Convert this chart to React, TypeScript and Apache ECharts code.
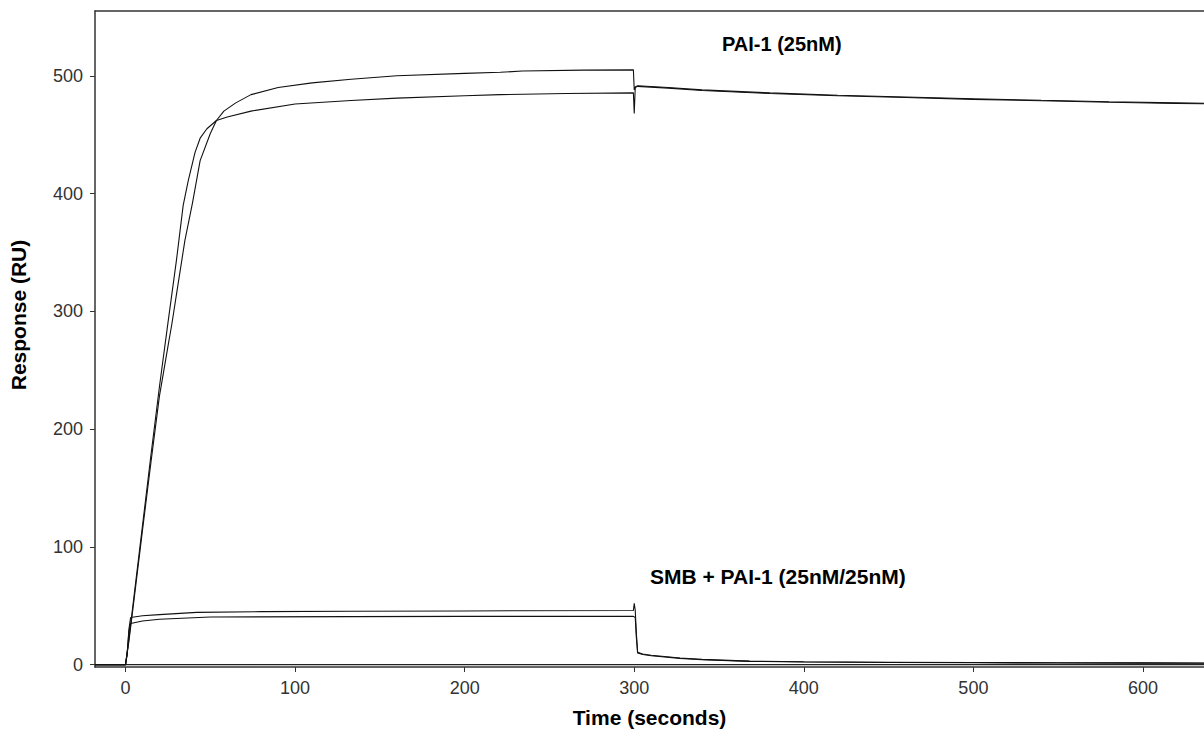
import React, { useEffect, useRef } from "react";
import * as echarts from "echarts";

// Axis ticks
const xTicks = [0, 100, 200, 300, 400, 500, 600];
const yTicks = [0, 100, 200, 300, 400, 500];

// PAI-1 (25nM) – trace A (faster rise, lower plateau)
const paiATime = [-18, 0, 2, 5, 10, 15, 20, 25, 30, 34, 37, 41, 44, 48, 53.6, 60, 74, 100, 133, 160, 200, 221, 260, 299.5, 300, 300.6, 302, 320, 340, 380, 420, 460, 500, 540, 580, 620, 648];
const paiAValue = [0, 0, 22, 58, 118, 178, 236, 290, 343, 390, 411, 435, 447, 455, 462, 465, 470, 476, 479, 481, 483, 484, 485, 485.5, 468, 490, 491, 489.5, 487.5, 485, 483, 481.5, 480, 478.8, 477.5, 476.5, 476];

// PAI-1 (25nM) – trace B (slower rise, higher plateau)
const paiBTime = [-18, 0, 2, 5, 10, 15, 20, 25, 27.3, 30, 35, 39.5, 44, 50, 53.6, 58, 65, 74, 90, 110, 133, 160, 200, 221, 234, 270, 299.5, 300, 300.6, 302, 320, 340, 380, 420, 460, 500, 540, 580, 620, 648];
const paiBValue = [0, 0, 20, 55, 114, 172, 228, 270, 289, 314, 360, 392, 428, 451, 462, 470, 477, 484, 490, 494, 497, 500, 502, 503, 504, 504.8, 505, 488, 490.5, 491.5, 490, 488, 485.5, 483.5, 482, 480.5, 479.2, 478, 477, 476.5];

// SMB + PAI-1 (25nM/25nM) – upper trace
const smbATime = [-18, 0, 1, 2, 3, 10, 20, 42, 80, 133, 200, 299.5, 300, 300.6, 301.2, 302, 305, 310, 327, 340, 368, 400, 450, 500, 550, 600, 648];
const smbAValue = [0, 0, 10, 30, 40, 41.5, 42.5, 44.4, 45, 45.3, 45.6, 46, 52, 46, 28, 10.5, 9, 8, 5.6, 4.5, 3, 2.5, 2, 1.8, 1.6, 1.5, 1.4];

// SMB + PAI-1 (25nM/25nM) – lower trace
const smbBTime = [-18, 0, 1, 2, 3, 10, 20, 50, 133, 200, 299.5, 300.6, 301.2, 302, 305, 310, 327, 340, 368, 400, 450, 500, 550, 600, 648];
const smbBValue = [0, 0, 9, 28, 35, 37, 38.5, 40.5, 40.8, 41, 41, 40, 24, 10, 8.6, 7.6, 5.3, 4.2, 2.8, 2.2, 1.8, 1.6, 1.4, 1.3, 1.2];

// Flat reference trace at zero
const refTime = [-18, 648];
const refValue = [0, 0];

const zip = (t: number[], v: number[]) => t.map((x, i) => [x, v[i]]);

const FONT = "'Liberation Sans', Arial, sans-serif";

export default function App() {
  const ref = useRef<HTMLDivElement>(null);
  useEffect(() => {
    if (!ref.current) return;
    const chart = echarts.init(ref.current, null, { renderer: "svg" });
    const lineSeries = (name: string, t: number[], v: number[], color = "#111", width = 1.1) => ({
      name,
      type: "line",
      data: zip(t, v),
      showSymbol: false,
      symbol: "none",
      lineStyle: { color, width },
      clip: true,
      silent: true,
    });
    chart.setOption({
      animation: false,
      backgroundColor: "#fff",
      grid: { left: 95, top: 11, right: 0, bottom: 77 },
      xAxis: [
        {
          type: "value",
          min: -18,
          max: 636,
          position: "bottom",
          axisLine: { show: true, onZero: false, lineStyle: { color: "#333", width: 1.5 } },
          axisTick: { show: true, customValues: xTicks, length: 5, lineStyle: { color: "#333", width: 1 } },
          axisLabel: { customValues: xTicks, fontSize: 18, color: "#333", margin: 12, fontFamily: FONT },
          splitLine: { show: false },
          name: "Time (seconds)",
          nameLocation: "middle",
          nameGap: 40,
          nameTextStyle: { fontWeight: "bold", fontSize: 21, color: "#000", fontFamily: FONT },
        },
        {
          type: "value",
          min: -18,
          max: 636,
          position: "top",
          axisLine: { show: true, onZero: false, lineStyle: { color: "#333", width: 1.5 } },
          axisTick: { show: false },
          axisLabel: { show: false },
          splitLine: { show: false },
        },
      ],
      yAxis: {
        type: "value",
        min: -2,
        max: 555,
        axisLine: { show: true, onZero: false, lineStyle: { color: "#333", width: 1.5 } },
        axisTick: { show: true, customValues: yTicks, length: 5, lineStyle: { color: "#333", width: 1 } },
        axisLabel: { customValues: yTicks, fontSize: 18, color: "#333", margin: 12, fontFamily: FONT },
        splitLine: { show: false },
      },
      graphic: [
        {
          type: "text",
          x: 18,
          y: 315,
          rotation: Math.PI / 2,
          style: {
            text: "Response (RU)",
            font: `bold 21px ${FONT}`,
            fill: "#000",
            align: "center",
            verticalAlign: "middle",
          },
        },
        {
          type: "text",
          left: 722,
          top: 34,
          style: { text: "PAI-1 (25nM)", font: `bold 20px ${FONT}`, fill: "#000" },
        },
        {
          type: "text",
          left: 650,
          top: 566,
          style: { text: "SMB + PAI-1 (25nM/25nM)", font: `bold 21px ${FONT}`, fill: "#000" },
        },
      ],
      series: [
        lineSeries("ref", refTime, refValue, "#222", 1.2),
        lineSeries("SMB+PAI-1 B", smbBTime, smbBValue),
        lineSeries("SMB+PAI-1 A", smbATime, smbAValue),
        lineSeries("PAI-1 A", paiATime, paiAValue),
        lineSeries("PAI-1 B", paiBTime, paiBValue),
      ],
    });
    return () => chart.dispose();
  }, []);
  return (
    <div
      ref={ref}
      style={{ position: "fixed", left: 0, top: 0, width: 1204, height: 744, background: "#fff" }}
    />
  );
}
